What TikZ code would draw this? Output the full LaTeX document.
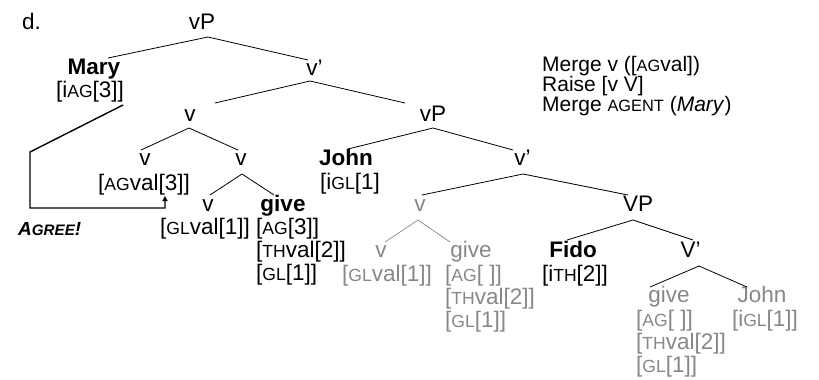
\documentclass[tikz,border=0pt]{standalone}
\usepackage{fontspec}
\setmainfont{Liberation Sans}
\usepackage{graphicx}
\usetikzlibrary{arrows.meta}
\definecolor{faded}{RGB}{135,135,135}
% reduced capitals for feature names
\newcommand\sca[1]{\scalebox{0.78}{#1}}
\tikzset{
  lbl/.style={anchor=base, inner sep=0pt, font=\fontsize{22.5}{23}\selectfont},
  lblw/.style={lbl, anchor=base west},
  note/.style={lblw, font=\fontsize{21}{21}\selectfont},
  head/.style={lbl, font=\fontsize{22.5}{23}\selectfont\bfseries},
  ghost/.style={text=faded},
  branch/.style={line width=0.8pt},
  gbranch/.style={line width=0.7pt, draw=faded},
  agree/.style={line width=1.4pt, -{Triangle[length=5pt,width=5pt]}}
}
\begin{document}
\begin{tikzpicture}[x=1pt,y=-1pt]
\useasboundingbox (0,0) rectangle (819,380);

% labels, level by level
\node[lblw] (d) at (22,29) {d.};
\node[lbl] (vP0) at (202,29) {vP};

\node[head] (Mary) at (94,74) {Mary};
\node[lbl] (MaryF) at (90,97) {[i\sca{AG}[3]]};
\node[lbl] (vb1) at (312,75) {v\rlap{'}};

\node[lbl] (v2) at (190,121) {v};
\node[lbl] (vP2) at (433,121) {vP};

\node[note] (m1) at (542,71) {Merge v ([\sca{AG}val])};
\node[note] (m2) at (542,91) {Raise [v V]};
\node[note] (m3) at (542,111) {Merge \sca{AGENT} (\textit{Mary})};

\node[lbl] (v3a) at (145,165) {v};
\node[lbl] (v3aF) at (144,190) {[\sca{AG}val[3]]};
\node[lbl] (v3b) at (241,165) {v};
\node[head] (John3) at (346,165) {John};
\node[lblw] (John3F) at (320,189) {[i\sca{GL}[1]};
\node[lbl] (vb3) at (520,165) {v\rlap{'}};

\node[lbl] (v4) at (208,211) {v};
\node[lbl] (v4F) at (205,234) {[\sca{GL}val[1]]};
\node[head] (give4) at (283,211) {give};
\node[lblw] (give4a) at (256,234) {[\sca{AG}[3]]};
\node[lblw] (give4b) at (256,257) {[\sca{TH}val[2]]};
\node[lblw] (give4c) at (256,280) {[\sca{GL}[1]]};
\node[lbl,ghost] (gv4) at (420,211) {v};
\node[lbl] (VP4) at (638,211) {VP};

\node[lbl,ghost] (gv5) at (381,257) {v};
\node[lbl,ghost] (gv5F) at (387,281) {[\sca{GL}val[1]]};
\node[lbl,ghost] (ggive5) at (471,257) {give};
\node[lblw,ghost] (ggive5a) at (445,281) {[\sca{AG}[ ]]};
\node[lblw,ghost] (ggive5b) at (445,304) {[\sca{TH}val[2]]};
\node[lblw,ghost] (ggive5c) at (445,327) {[\sca{GL}[1]]};
\node[head] (Fido) at (573,257) {Fido};
\node[lbl] (FidoF) at (575,281) {[i\sca{TH}[2]]};
\node[lbl] (Vb5) at (688,257) {V\rlap{'}};

\node[lbl,ghost] (ggive6) at (669,302) {give};
\node[lblw,ghost] (ggive6a) at (636,326) {[\sca{AG}[ ]]};
\node[lblw,ghost] (ggive6b) at (636,349) {[\sca{TH}val[2]]};
\node[lblw,ghost] (ggive6c) at (636,372) {[\sca{GL}[1]]};
\node[lbl,ghost] (John6) at (762,302) {John};
\node[lbl,ghost] (John6F) at (765,326) {[i\sca{GL}[1]]};

\node[lblw] (agr) at (18,235) {\fontsize{19}{19}\selectfont\bfseries\itshape A\scalebox{0.8}{GREE}!};

% branches
\draw[branch] ([shift={(14,-16)}]Mary.base) -- ([shift={(6,8)}]vP0.base) -- ([shift={(-4,-15)}]vb1.base);
\draw[branch] ([shift={(25,-18)}]v2.base) -- ([shift={(-2,6)}]vb1.base) -- ([shift={(-28,-18)}]vP2.base);
\draw[branch] ([shift={(-4,-15)}]v3a.base) -- ([shift={(-1,7)}]v2.base) -- ([shift={(-3,-15)}]v3b.base);
\draw[branch] ([shift={(2,-16)}]John3.base) -- ([shift={(0,7)}]vP2.base) -- ([shift={(-7,-15)}]vb3.base);
\draw[branch] ([shift={(2,-16)}]v4.base) -- ([shift={(1,9)}]v3b.base) -- ([shift={(-9,-16)}]give4.base);
\draw[branch] ([shift={(2,-16)}]gv4.base) -- ([shift={(3,9)}]vb3.base) -- ([shift={(-10,-16)}]VP4.base);
\draw[gbranch] ([shift={(4,-15)}]gv5.base) -- ([shift={(-2,9)}]gv4.base) -- ([shift={(-21,-15)}]ggive5.base);
\draw[branch] ([shift={(-6,-17)}]Fido.base) -- ([shift={(-5,9)}]VP4.base) -- ([shift={(5,-17)}]Vb5.base);
\draw[branch] ([shift={(-19,-15)}]ggive6.base) -- ([shift={(11,9)}]Vb5.base) -- ([shift={(-15,-15)}]John6.base);

% the Agree path
\coordinate (ag1) at (30,152);
\coordinate (ag2) at (30,208);
\draw[agree] ([shift={(33,8)}]MaryF.base) -- (ag1) -- (ag2) -| ([shift={(21,6)}]v3aF.base);
\end{tikzpicture}
\end{document}
